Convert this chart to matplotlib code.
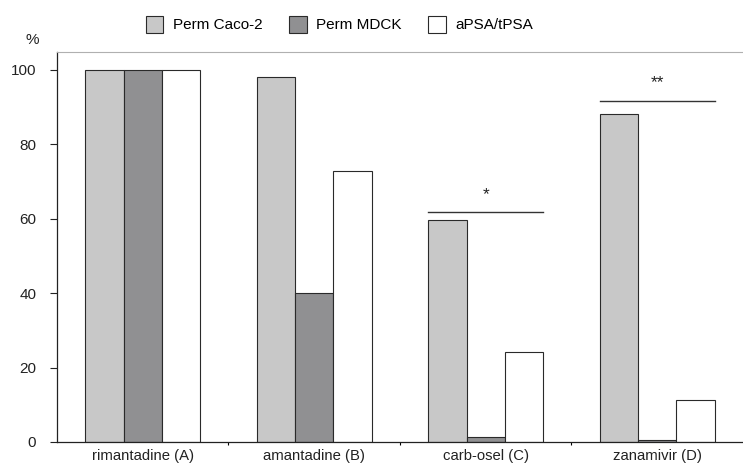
import numpy as np
import matplotlib.pyplot as plt

plt.rcParams['font.family'] = ['Liberation Sans', 'DejaVu Sans']

compounds = ['rimantadine (A)', 'amantadine (B)', 'carb-osel (C)', 'zanamivir (D)']
perm_caco2 = [100, 98.1, 59.7, 88.2]
perm_mdck = [100, 40.0, 1.3, 0.5]
apsa_tpsa = [100, 72.8, 24.2, 11.3]
series_names = ['Perm Caco-2', 'Perm MDCK', 'aPSA/tPSA']
series_colors = ['#c8c8c8', '#909092', '#ffffff']

# significance bars: (group index, height of line, label)
sig_marks = [(2, 61.8, '*'), (3, 91.7, '**')]

fig = plt.figure(figsize=(7.43, 4.65), dpi=100)
ax = fig.add_axes([0.0767, 0.0495, 0.9233, 0.8385])

x = np.arange(len(compounds))
w = 0.224
for i, (vals, name, col) in enumerate(zip([perm_caco2, perm_mdck, apsa_tpsa], series_names, series_colors)):
    ax.bar(x + (i - 1) * w, vals, width=w, color=col, edgecolor='#2a2a2a',
           linewidth=0.8, label=name, zorder=2)

for g, h, lab in sig_marks:
    ax.plot([g - 1.5 * w, g + 1.5 * w], [h, h], color='#333333', lw=1.0)
    ax.text(g, h + 2.8, lab, ha='center', va='bottom', fontsize=12.5, color='#222222')

ax.set_xlim(-0.5, 3.5)
ax.set_ylim(0, 104.8)
ax.set_yticks([0, 20, 40, 60, 80, 100])
ax.set_xticks(x)
ax.set_xticklabels(compounds)
ax.set_xticks([0.5, 1.5, 2.5], minor=True)
ax.tick_params(axis='y', direction='out', length=5, width=0.8, pad=10, labelsize=11, colors='#222222')
ax.tick_params(axis='x', which='major', length=0, pad=5, labelsize=10.7, colors='#222222')
ax.tick_params(axis='x', which='minor', direction='out', length=2.5, width=0.8)

ax.spines['right'].set_visible(False)
ax.spines['top'].set_color('#b0b0b0')
ax.spines['left'].set_color('#222222')
ax.spines['bottom'].set_color('#222222')
ax.spines['left'].set_linewidth(0.9)
ax.spines['bottom'].set_linewidth(0.9)

fig.legend(loc='center', bbox_to_anchor=(0.457, 0.948), ncol=3, frameon=False,
           fontsize=11, handlelength=1.15, handleheight=1.35, handletextpad=0.65,
           columnspacing=1.7)
fig.text(0.043, 0.914, '%', fontsize=11, ha='center', va='center', color='#222222')

fig.savefig('out.png', dpi=100)
